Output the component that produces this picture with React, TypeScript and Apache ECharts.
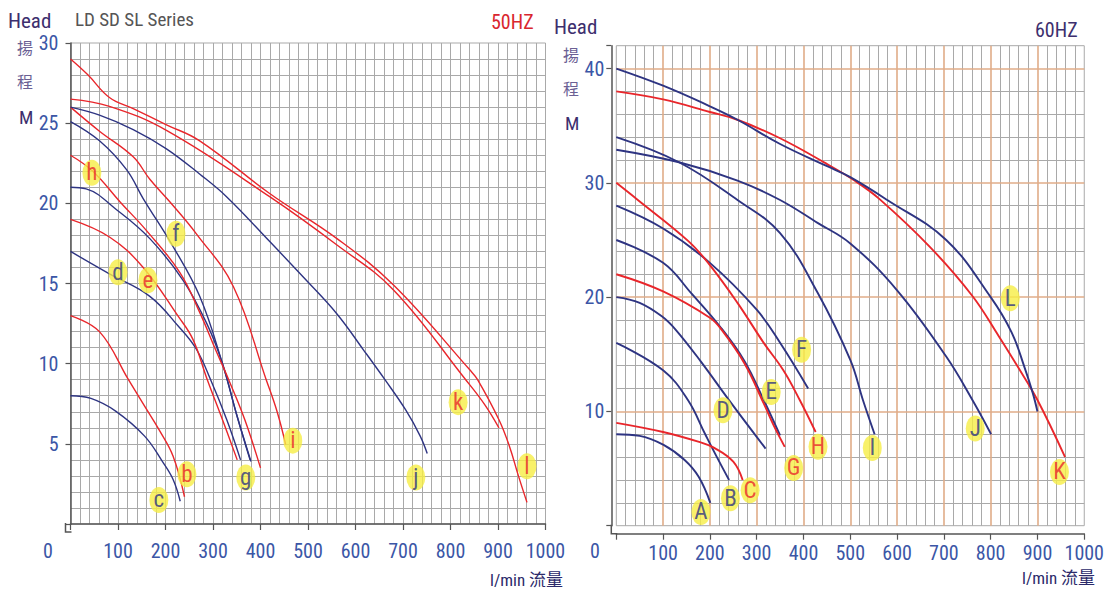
import React, { useEffect, useRef } from 'react';
import * as echarts from 'echarts';

// Pump performance curves: flow (l/min) vs head (m)

const FONT = "'Liberation Sans Narrow', 'Arial Narrow', 'Roboto Condensed', 'DejaVu Sans Condensed', 'Liberation Sans', 'Noto Sans CJK TC', sans-serif";
const CJK = "'Noto Sans CJK TC', 'Noto Sans CJK SC', sans-serif";

const RED = '#e9262b';
const NAVY = '#2e3482';
const AXIS_BLUE = '#3b56a6';
const TITLE_PURPLE = '#3d2f6e';
const GRID_GRAY = '#a9a9a9';
const GRID_ORANGE = '#e0ac88';

// ---- 50 Hz model curves [flow, head] ----
const c50b = [[0, 13.0], [61, 12.0], [122, 9.0], [156, 7.35], [186, 5.9], [216, 4.23], [240, 1.7]];
const c50c = [[0, 8.0], [43, 7.83], [95, 7.04], [156, 5.48], [193, 3.92], [216, 2.78], [231, 1.42]];
const c50d = [[0, 17.0], [82, 15.6], [167, 14.2], [228, 12.3], [265, 10.9], [295, 9.0], [329, 6.5], [358, 4.0]];
const c50e = [[0, 19.0], [82, 17.9], [153, 16.0], [228, 12.9], [258, 11.5], [288, 9.0], [320, 6.5], [351, 4.0]];
const c50f = [[0, 25.1], [61, 23.9], [118, 22.1], [153, 20.3], [216, 17.3], [272, 14.2], [320, 10.0], [350, 6.8], [378, 4.0]];
const c50g = [[0, 21.0], [33, 20.9], [97, 19.6], [167, 17.8], [237, 15.2], [287, 12.5], [320, 10.0], [350, 6.8], [380, 3.9]];
const c50h = [[0, 23.0], [47, 22.0], [104, 20.1], [160, 18.3], [230, 15.7], [272, 13.2], [305, 10.9], [333, 9.0], [367, 6.5], [400, 3.5]];
const c50i = [[0, 26.0], [61, 24.5], [132, 22.9], [167, 21.5], [209, 20.1], [265, 18.1], [343, 14.8], [412, 9.0], [435, 7.0], [453, 4.95]];
const c50j = [[0, 26.0], [61, 25.5], [132, 24.6], [202, 23.4], [273, 21.8], [329, 20.4], [420, 17.6], [490, 15.4], [561, 13.1], [617, 10.85], [662, 9.0], [706, 7.1], [736, 5.5], [751, 4.4]];
const c50k = [[0, 26.5], [82, 26.05], [202, 24.55], [420, 20.4], [561, 17.4], [680, 14.6], [832, 9.0], [872, 7.45], [902, 6.0]];
const c50l = [[0, 29.0], [37, 28.0], [82, 26.6], [132, 25.9], [202, 24.9], [272, 23.9], [420, 20.6], [561, 17.8], [680, 14.9], [841, 9.6], [857, 9.0], [902, 6.5], [924, 4.85], [943, 3.0], [961, 1.35]];

// ---- 60 Hz model curves [flow, head] ----
const c60A = [[0, 8.0], [50, 7.86], [101, 7.07], [146, 5.75], [176, 4.28], [201, 2.0]];
const c60B = [[0, 16.0], [100, 13.6], [153, 11.0], [190, 8.0], [215, 6.0], [241, 4.0]];
const c60C = [[0, 9.0], [100, 8.2], [175, 7.35], [212, 6.75], [250, 5.6], [270, 4.0]];
const c60D = [[0, 20.0], [50, 19.5], [98, 18.3], [128, 17.1], [180, 14.4], [246, 10.7], [319, 6.75]];
const c60E = [[0, 25.0], [100, 23.0], [161, 20.3], [224, 17.3], [274, 14.4], [315, 11.0], [350, 7.9]];
const c60F = [[0, 28.0], [100, 26.0], [200, 23.0], [300, 18.9], [350, 16.0], [410, 12.0]];
const c60G = [[0, 22.0], [100, 20.5], [200, 18.2], [224, 17.2], [274, 14.2], [315, 10.7], [336, 8.8], [360, 6.9]];
const c60H = [[0, 30.0], [46, 28.5], [154, 24.9], [200, 22.8], [259, 19.5], [315, 16.0], [357, 13.6], [392, 11.0], [426, 8.2]];
const c60I = [[0, 34.0], [134, 31.8], [259, 28.5], [350, 25.6], [430, 20.4], [500, 14.5], [527, 11.0], [552, 8.0]];
const c60J = [[0, 32.9], [134, 31.8], [259, 30.2], [350, 28.5], [430, 26.5], [500, 24.7], [600, 20.6], [705, 14.8], [761, 11.0], [801, 8.0]];
const c60K = [[0, 38.0], [100, 37.3], [200, 36.2], [260, 35.5], [350, 33.9], [448, 31.7], [509, 30.2], [562, 28.6], [670, 24.4], [761, 20.1], [817, 16.6], [858, 13.9], [900, 11.0], [959, 6.0]];
const c60L = [[0, 40.0], [100, 38.5], [200, 36.7], [260, 35.5], [350, 33.4], [448, 31.5], [500, 30.5], [579, 28.5], [705, 25.0], [800, 20.0], [845, 16.9], [872, 13.9], [890, 11.6], [900, 10.0]];

// curve id, points, colour family
const curves50: [string, number[][], 'r' | 'b'][] = [
  ['b', c50b, 'r'], ['c', c50c, 'b'], ['d', c50d, 'b'], ['e', c50e, 'r'], ['f', c50f, 'b'], ['g', c50g, 'b'],
  ['h', c50h, 'r'], ['i', c50i, 'r'], ['j', c50j, 'b'], ['k', c50k, 'r'], ['l', c50l, 'r'],
];
const curves60: [string, number[][], 'r' | 'b'][] = [
  ['A', c60A, 'b'], ['B', c60B, 'b'], ['C', c60C, 'r'], ['D', c60D, 'b'], ['E', c60E, 'b'], ['F', c60F, 'b'],
  ['G', c60G, 'r'], ['H', c60H, 'r'], ['I', c60I, 'b'], ['J', c60J, 'b'], ['K', c60K, 'r'], ['L', c60L, 'b'],
];

// model tags [letter, flow, head, colour family]
const tags50: [string, number, number, 'r' | 'b'][] = [
  ['h', 45, 21.9, 'r'], ['f', 222, 18.1, 'b'], ['d', 100, 15.7, 'b'], ['e', 163, 15.2, 'r'],
  ['i', 468, 5.2, 'r'], ['g', 369, 2.9, 'b'], ['b', 245, 3.1, 'r'], ['c', 186, 1.5, 'b'],
  ['j', 727, 2.9, 'b'], ['k', 816, 7.6, 'r'], ['l', 961, 3.6, 'r'],
];
const tags60: [string, number, number, 'r' | 'b'][] = [
  ['L', 842, 19.9, 'b'], ['K', 947, 4.7, 'r'], ['J', 767, 8.5, 'b'], ['I', 547, 6.8, 'b'],
  ['H', 431, 6.9, 'r'], ['G', 379, 5.05, 'r'], ['F', 396, 15.4, 'b'], ['E', 331, 11.7, 'b'],
  ['D', 228, 10.1, 'b'], ['C', 286, 3.1, 'r'], ['B', 244, 2.4, 'b'], ['A', 181, 1.2, 'b'],
];

// axis ranges and grid steps
const FLOW_MAX = 1000;
const HEAD50_MAX = 30;
const HEAD60_MAX = 42;
const FLOW_STEP = 20;
const HEAD60_STEP = 2;

const ELLIPSE = 'path://M10,0A10,13,0,1,1,10,26A10,13,0,1,1,10,0Z';

// plot layout (px)
const G1 = { left: 70.5, top: 43, width: 475, height: 481 };
const G2 = { left: 616.3, top: 45.7, width: 477, height: 480 };

function steps(max: number, step: number) {
  const out: string[] = [];
  for (let v = 0; v <= max; v += step) out.push(String(v));
  return out;
}

function majorLines(color: string | null) {
  return color
    ? { show: true, showMinLine: false, showMaxLine: false, lineStyle: { color, width: 1.6 } }
    : { show: false };
}

function labelAxisX(gridIndex: number, major: string | null) {
  return {
    type: 'value', gridIndex, min: 0, max: FLOW_MAX, interval: 100, position: 'bottom', offset: 8, z: 1,
    axisLine: { show: true, lineStyle: { color: '#555', width: 1.5 } },
    axisTick: { show: true, length: 6, lineStyle: { color: '#555', width: 1.2 } },
    axisLabel: {
      margin: 9, fontSize: 20, color: AXIS_BLUE, fontFamily: FONT,
      formatter: (v: number) => (v === 0 ? '' : String(v)),
    },
    splitLine: majorLines(major),
  };
}

function labelAxisY(gridIndex: number, max: number, interval: number, major: string | null) {
  return {
    type: 'value', gridIndex, min: 0, max, interval, position: 'left', offset: 5, z: 1,
    axisLine: { show: true, lineStyle: { color: '#555', width: 1.5 } },
    axisTick: { show: true, length: 5, lineStyle: { color: '#555', width: 1.2 } },
    axisLabel: {
      margin: 7, fontSize: 20, color: AXIS_BLUE, fontFamily: FONT,
      formatter: (v: number) => (v > 0 && v % interval === 0 ? String(v) : ''),
    },
    splitLine: majorLines(major),
  };
}

// unlabelled value axis that only draws a uniform fine grid
function gridAxis(kind: 'x' | 'y', gridIndex: number, max: number, interval: number) {
  return {
    type: 'value', gridIndex, min: 0, max, interval, z: 0,
    position: kind === 'x' ? 'top' : 'right',
    axisLine: { show: false }, axisTick: { show: false }, axisLabel: { show: false },
    splitLine: { show: true, showMinLine: false, showMaxLine: false, lineStyle: { color: GRID_GRAY, width: 1 } },
  };
}

// fine grid that leaves out every `skip`-th value so the major lines stay clean
function sparseGridAxis(kind: 'x' | 'y', gridIndex: number, max: number, step: number, skip: number) {
  return {
    type: 'category', gridIndex, boundaryGap: false, data: steps(max, step), z: 0,
    position: kind === 'x' ? 'top' : 'right',
    axisLine: { show: false }, axisTick: { show: false }, axisLabel: { show: false },
    splitLine: {
      show: true,
      interval: (_i: number, v: string) => Number(v) % skip !== 0 && Number(v) !== max,
      lineStyle: { color: GRID_GRAY, width: 1 },
    },
  };
}

function curveSeries(list: [string, number[][], 'r' | 'b'][], axis: number, width: number) {
  return list.map(([id, pts, c]) => ({
    type: 'line', name: id, xAxisIndex: axis, yAxisIndex: axis, data: pts,
    showSymbol: false, symbol: 'none', smooth: 0.4,
    lineStyle: { color: c === 'r' ? RED : NAVY, width }, silent: true, z: 3,
  }));
}

function tagSeries(list: [string, number, number, 'r' | 'b'][], axis: number) {
  return {
    type: 'scatter', xAxisIndex: axis, yAxisIndex: axis, symbol: ELLIPSE, symbolSize: [19, 26],
    itemStyle: { color: '#f6ee45' }, silent: true, z: 6,
    label: { show: true, position: 'inside', formatter: '{b}', fontSize: 23, fontFamily: FONT },
    data: list.map(([t, x, y, c]) => ({ name: t, value: [x, y], label: { color: c === 'r' ? RED : NAVY } })),
  };
}

function txt(text: string, left: number, top: number, fontSize: number, fill: string, family = FONT) {
  return { type: 'text', left, top, silent: true, style: { text, fontSize, fill, fontFamily: family } };
}

function corner(g: { left: number; top: number; height: number }) {
  const x = g.left - 5;
  const yb = g.top + g.height;
  return {
    type: 'polyline', silent: true, z: 10,
    shape: { points: [[x, yb - 1], [x, yb + 8], [g.left + 1, yb + 8]] },
    style: { stroke: '#555', lineWidth: 1.5, fill: 'none' },
  };
}

export default function App() {
  const ref = useRef<HTMLDivElement>(null);
  useEffect(() => {
    if (!ref.current) return;
    const chart = echarts.init(ref.current, null, { renderer: 'svg' });
    chart.setOption({
      animation: false,
      backgroundColor: '#ffffff',
      grid: [
        { ...G1, show: true, borderColor: GRID_GRAY, borderWidth: 1 },
        { ...G2, show: true, borderColor: GRID_GRAY, borderWidth: 1 },
      ],
      // index 0/2: fine grid, index 1/3: labelled axes
      xAxis: [
        gridAxis('x', 0, FLOW_MAX, FLOW_STEP),
        labelAxisX(0, null),
        sparseGridAxis('x', 1, FLOW_MAX, FLOW_STEP, 100),
        labelAxisX(1, GRID_ORANGE),
      ],
      yAxis: [
        gridAxis('y', 0, HEAD50_MAX, 1),
        labelAxisY(0, HEAD50_MAX, 5, null),
        sparseGridAxis('y', 1, HEAD60_MAX, HEAD60_STEP, 10),
        labelAxisY(1, HEAD60_MAX, 10, GRID_ORANGE),
      ],
      series: [
        ...curveSeries(curves50, 1, 1.4),
        tagSeries(tags50, 1),
        ...curveSeries(curves60, 3, 1.9),
        tagSeries(tags60, 3),
      ],
      graphic: [
        txt('Head', 8, 10, 21, TITLE_PURPLE),
        txt('LD SD SL Series', 75, 10, 19, '#555555'),
        txt('50HZ', 491, 12, 20, '#d9262e'),
        txt('揚', 17, 39, 16, '#6b6094', CJK),
        txt('程', 17, 73, 16, '#6b6094', CJK),
        txt('M', 19, 108, 19, TITLE_PURPLE),
        txt('0', 43, 541, 20, AXIS_BLUE),
        txt('l/min 流量', 490, 571, 17, '#2b2a6a'),
        txt('Head', 554, 16, 21, TITLE_PURPLE),
        txt('揚', 563, 46, 16, '#6b6094', CJK),
        txt('程', 563, 80, 16, '#6b6094', CJK),
        txt('M', 565, 114, 19, TITLE_PURPLE),
        txt('60HZ', 1035, 20, 20, TITLE_PURPLE),
        txt('0', 590, 541, 20, AXIS_BLUE),
        txt('l/min 流量', 1022, 569, 17, '#2b2a6a'),
        corner(G1),
        corner(G2),
      ],
    });
    return () => chart.dispose();
  }, []);
  return (
    <div
      ref={ref}
      style={{ position: 'absolute', left: 0, top: 0, width: 1107, height: 593, background: '#fff' }}
    />
  );
}
